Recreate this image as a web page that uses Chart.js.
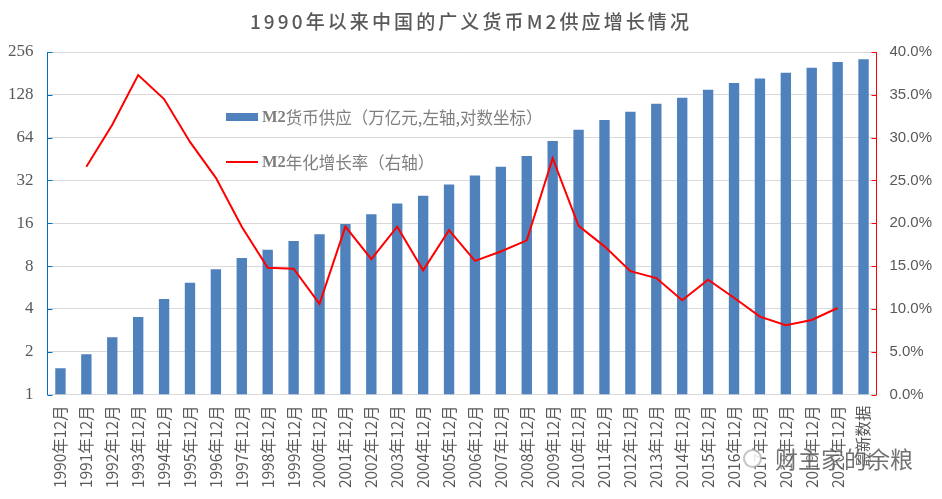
<!DOCTYPE html>
<html>
<head>
<meta charset="utf-8">
<style>
  html, body { margin: 0; background: #fff; }
  #wrap { position: relative; width: 942px; height: 499px; overflow: hidden; }
  #title { position: absolute; left: 0; top: 7px; width: 942px; text-align: center; color: #595959;
    font: 500 19px "Noto Sans CJK SC", sans-serif; letter-spacing: 3.1px; }
  .legend-row { position: absolute; left: 226px; height: 22px; display: flex; align-items: center;
    color: #7f7f7f; font: 16.5px "Noto Sans CJK SC", sans-serif; white-space: nowrap; }
  .legend-row b { font-family: "Liberation Serif", serif; }
  .swatch { display: inline-block; width: 32px; margin-right: 4px; }
  #mark { position: absolute; left: 743px; top: 441px; display: flex; align-items: center; color: #5a5a5a; opacity: .85;
    font: 23px "Noto Sans CJK SC", sans-serif; white-space: nowrap; text-shadow: 0 0 2px #fff, 0 0 2px #fff; }
  #mark i { display: inline-block; width: 15px; height: 15px; border: 2px solid #bbb; border-radius: 50%; margin-right: 13px; background: #fff; }
</style>
</head>
<body>
<div id="wrap">
  <canvas id="chart" width="942" height="499"></canvas>
  <div id="title">1990年以来中国的广义货币M2供应增长情况</div>
  <div id="legend"></div>
  <div id="mark"><i></i>财主家的余粮</div>
</div>
<script src="https://cdn.jsdelivr.net/npm/chart.js@4"></script>
<script>
const categories = ['1990年12月','1991年12月','1992年12月','1993年12月','1994年12月','1995年12月','1996年12月','1997年12月',
  '1998年12月','1999年12月','2000年12月','2001年12月','2002年12月','2003年12月','2004年12月','2005年12月',
  '2006年12月','2007年12月','2008年12月','2009年12月','2010年12月','2011年12月','2012年12月','2013年12月',
  '2014年12月','2015年12月','2016年12月','2017年12月','2018年12月','2019年12月','2020年12月','最新数据'];
const m2Supply = [1.53,1.92,2.53,3.5,4.7,6.1,7.6,9.1,10.4,12,13.4,15.8,18.5,22,25,30,
  34.6,40,47.5,60.6,72.6,85,97.4,110.6,122,139,155,167,183,198,218,228];
const m2Growth = [null,26.6,31.5,37.3,34.5,29.5,25.3,19.6,14.8,14.7,10.6,19.6,15.8,19.6,14.5,19.2,
  15.6,16.7,18,27.6,19.7,17.3,14.4,13.6,11,13.4,11.3,9.1,8.1,8.7,10.1,null];
const leftTicks = [1,2,4,8,16,32,64,128,256];

const legendItems = [
  { bold: 'M2', text: '货币供应（万亿元,左轴,对数坐标）', color: '#4f81bd', h: 8, top: 106 },
  { bold: 'M2', text: '年化增长率（右轴）', color: '#ff0000', h: 2, top: 151 }
];
const legend = document.getElementById('legend');
legendItems.forEach((item) => {
  const row = document.createElement('div');
  row.className = 'legend-row';
  row.style.top = item.top + 'px';
  const swatch = document.createElement('span');
  swatch.className = 'swatch';
  swatch.style.height = item.h + 'px';
  swatch.style.background = item.color;
  const bold = document.createElement('b');
  bold.textContent = item.bold;
  row.append(swatch, bold, item.text);
  legend.appendChild(row);
});

// short tick marks pointing into the plot, on both value axes
const innerTicks = {
  id: 'innerTicks',
  afterDraw(chart) {
    const { ctx, chartArea } = chart;
    ctx.save();
    ctx.lineWidth = 1;
    chart.scales.y.ticks.forEach((tick) => {
      const py = Math.round(chart.scales.y.getPixelForValue(tick.value)) + 0.5;
      ctx.strokeStyle = '#0070c0';
      ctx.beginPath();
      ctx.moveTo(chartArea.left, py);
      ctx.lineTo(chartArea.left + 5, py);
      ctx.stroke();
    });
    chart.scales.y1.ticks.forEach((tick) => {
      const py = Math.round(chart.scales.y1.getPixelForValue(tick.value)) + 0.5;
      ctx.strokeStyle = '#ff0000';
      ctx.beginPath();
      ctx.moveTo(chartArea.right - 5, py);
      ctx.lineTo(chartArea.right, py);
      ctx.stroke();
    });
    ctx.restore();
  }
};

new Chart(document.getElementById('chart'), {
  data: {
    labels: categories,
    datasets: [
      { type: 'line', label: 'M2年化增长率（右轴）', data: m2Growth, yAxisID: 'y1', borderColor: '#ff0000',
        borderWidth: 2, pointRadius: 0, tension: 0, order: 1 },
      { type: 'bar', label: 'M2货币供应', data: m2Supply, yAxisID: 'y', backgroundColor: '#4f81bd',
        barPercentage: 0.4, categoryPercentage: 1, order: 2 }
    ]
  },
  plugins: [innerTicks],
  options: {
    responsive: false,
    animation: false,
    layout: { padding: { top: 52, left: 0, right: 0, bottom: 0 } },
    plugins: { legend: { display: false }, tooltip: { enabled: false } },
    scales: {
      x: {
        grid: { display: false, drawTicks: false },
        border: { color: '#d9d9d9' },
        afterFit: (scale) => { scale.height = 104.5; },
        ticks: { minRotation: 90, maxRotation: 90, autoSkip: false, padding: 11, color: '#595959',
          font: { size: 15.5, family: '"Noto Sans CJK SC", sans-serif' } }
      },
      y: {
        type: 'logarithmic', min: 1, max: 256,
        afterBuildTicks: (scale) => { scale.ticks = leftTicks.map((value) => ({ value })); },
        afterFit: (scale) => { scale.width = 47.5; },
        grid: { color: '#d9d9d9', drawTicks: false },
        border: { color: '#0070c0', width: 1 },
        ticks: { color: '#595959', padding: 14, callback: (v) => String(v),
          font: { size: 17, family: '"Liberation Serif", serif' } }
      },
      y1: {
        position: 'right', min: 0, max: 40,
        afterFit: (scale) => { scale.width = 65.5; },
        grid: { display: false, tickColor: '#ff0000', tickLength: 5 },
        border: { color: '#ff0000' },
        ticks: { stepSize: 5, color: '#595959', padding: 8, callback: (v) => v.toFixed(1) + '%',
          font: { size: 15, family: '"Liberation Sans", sans-serif' } }
      }
    }
  }
});
</script>
</body>
</html>
